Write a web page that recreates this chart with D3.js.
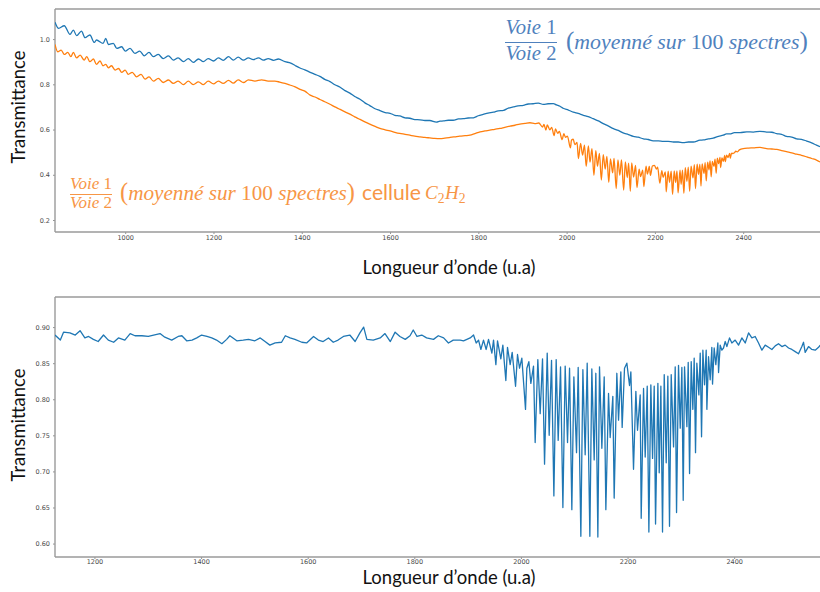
<!DOCTYPE html>
<html><head><meta charset="utf-8">
<script src="https://cdn.jsdelivr.net/npm/d3@7"></script>
<style>
html,body{margin:0;padding:0;background:#fff;}
svg{display:block;}
.tick text{-webkit-font-smoothing:grayscale;}
</style></head>
<body>
<svg id="chart" width="820" height="592"></svg>
<script>
// ---- Spectra: [wavelength (u.a), transmittance] ----
// Voie 1 / Voie 2 without the gas cell (upper panel, blue)
const refSpectrum = [[841,1.074],[849,1.047],[862,1.059],[875,1.021],[882.5,1.040],[890,1.015],[901,1.035],[909,1.006],[920,1.018],[930,0.985],[935,0.996],[950,0.981],[956,1.003],[962,0.976],[973,0.981],[981,0.959],[992,0.966],[1000,0.947],[1011,0.959],[1022,0.937],[1033,0.947],[1043,0.926],[1054,0.941],[1064,0.922],[1075,0.932],[1086,0.914],[1098,0.926],[1109,0.907],[1120,0.917],[1132,0.900],[1143,0.914],[1154,0.897],[1166,0.912],[1177,0.900],[1188,0.914],[1200,0.903],[1211,0.917],[1222,0.906],[1234,0.922],[1245,0.907],[1256,0.920],[1268,0.907],[1279,0.917],[1290,0.909],[1302,0.917],[1313,0.907],[1324,0.914],[1336,0.906],[1347,0.912],[1362,0.900],[1375,0.894],[1385,0.883],[1396,0.872],[1407,0.864],[1419,0.853],[1430,0.844],[1441,0.835],[1452,0.822],[1464,0.812],[1475,0.798],[1487,0.787],[1498,0.772],[1509,0.761],[1520,0.746],[1532,0.734],[1543,0.718],[1554,0.706],[1566,0.692],[1577,0.684],[1589,0.675],[1600,0.672],[1611,0.663],[1622,0.660],[1634,0.652],[1645,0.650],[1656,0.644],[1668,0.643],[1679,0.640],[1690,0.640],[1705,0.633],[1713,0.637],[1721,0.638],[1732,0.641],[1743,0.641],[1755,0.647],[1766,0.648],[1777,0.651],[1789,0.652],[1800,0.661],[1811,0.667],[1822,0.673],[1834,0.677],[1845,0.683],[1857,0.685],[1868,0.695],[1879,0.700],[1890,0.705],[1902,0.707],[1913,0.713],[1924,0.714],[1936,0.717],[1947,0.711],[1958,0.714],[1970,0.715],[1977,0.709],[1985,0.703],[1992,0.694],[2004,0.686],[2015,0.677],[2026,0.671],[2038,0.663],[2049,0.657],[2060,0.648],[2072,0.638],[2083,0.626],[2094,0.616],[2106,0.604],[2117,0.596],[2128,0.585],[2140,0.578],[2151,0.570],[2162,0.566],[2174,0.559],[2185,0.556],[2196,0.550],[2208,0.550],[2219,0.548],[2230,0.548],[2242,0.545],[2253,0.545],[2264,0.542],[2276,0.545],[2287,0.545],[2302,0.553],[2310,0.554],[2321,0.559],[2332,0.562],[2344,0.570],[2355,0.575],[2362,0.581],[2370,0.581],[2380,0.586],[2393,0.586],[2408,0.590],[2423,0.589],[2438,0.592],[2453,0.589],[2465,0.588],[2476,0.582],[2487,0.579],[2498,0.570],[2510,0.567],[2521,0.559],[2532,0.557],[2544,0.549],[2555,0.541],[2566,0.531],[2574,0.524]];

// Voie 1 / Voie 2 through the C2H2 cell (upper panel, orange)
const cellSpectrum = [[841,0.976],[847,0.944],[855,0.951],[862,0.932],[870,0.941],[877,0.922],[882.5,0.941],[890,0.917],[898,0.929],[907,0.907],[913,0.922],[920,0.900],[928,0.912],[935,0.888],[943,0.903],[950,0.882],[956,0.888],[962,0.873],[969,0.882],[977,0.863],[985,0.870],[992,0.853],[1000,0.863],[1007,0.844],[1016,0.853],[1026,0.833],[1036,0.844],[1045,0.823],[1054,0.833],[1064,0.814],[1075,0.826],[1086,0.808],[1098,0.819],[1109,0.804],[1120,0.814],[1132,0.799],[1143,0.814],[1154,0.799],[1166,0.811],[1177,0.799],[1188,0.814],[1200,0.802],[1211,0.814],[1222,0.804],[1234,0.817],[1245,0.805],[1256,0.820],[1268,0.808],[1279,0.820],[1294,0.814],[1309,0.820],[1324,0.814],[1339,0.814],[1350,0.810],[1362,0.804],[1373,0.797],[1385,0.789],[1396,0.778],[1407,0.770],[1419,0.752],[1430,0.744],[1441,0.733],[1452,0.723],[1464,0.712],[1475,0.700],[1487,0.689],[1498,0.678],[1509,0.668],[1520,0.656],[1532,0.645],[1543,0.634],[1554,0.624],[1566,0.614],[1577,0.605],[1589,0.599],[1600,0.594],[1611,0.588],[1622,0.583],[1634,0.579],[1645,0.575],[1656,0.571],[1668,0.568],[1679,0.565],[1690,0.563],[1701,0.561],[1713,0.560],[1724,0.562],[1736,0.565],[1747,0.568],[1758,0.571],[1770,0.573],[1781,0.575],[1792,0.582],[1804,0.590],[1815,0.594],[1826,0.597],[1837,0.601],[1849,0.605],[1860,0.610],[1872,0.615],[1883,0.619],[1894,0.624],[1906,0.627],[1917,0.630],[1928,0.626],[1937,0.629],[1945.5,0.611],[1948.6,0.623],[1953,0.598],[1956.1,0.620],[1962.3,0.599],[1966.1,0.610],[1971.7,0.573],[1974.8,0.603],[1979.8,0.583],[1983.6,0.592],[1989.9,0.555],[1993.6,0.582],[1997.4,0.566],[2001.7,0.571],[2008.6,0.519],[2011.1,0.554],[2014.9,0.557],[2018.6,0.533],[2023.6,0.543],[2026.7,0.472],[2031.7,0.539],[2036.1,0.487],[2040.5,0.531],[2044.3,0.437],[2049.3,0.528],[2053,0.456],[2057.4,0.515],[2061.8,0.398],[2066.1,0.507],[2069.9,0.438],[2074.3,0.494],[2078.7,0.377],[2083,0.489],[2087.4,0.425],[2091.2,0.481],[2095.5,0.367],[2099.3,0.470],[2104.3,0.408],[2107.4,0.472],[2112.4,0.339],[2116.2,0.466],[2120.5,0.398],[2124.3,0.466],[2129.3,0.332],[2133,0.457],[2137.4,0.388],[2140.5,0.451],[2144.3,0.327],[2147.4,0.453],[2151.8,0.390],[2156.2,0.441],[2159.3,0.343],[2164.3,0.425],[2167.4,0.392],[2172.4,0.421],[2174.9,0.348],[2179.9,0.438],[2183.1,0.403],[2187.4,0.437],[2189.9,0.397],[2194.3,0.439],[2198.7,0.442],[2203.7,0.425],[2206.2,0.434],[2211.2,0.363],[2215.6,0.418],[2218.7,0.389],[2223.7,0.413],[2225.6,0.325],[2230,0.416],[2233.1,0.367],[2236.9,0.416],[2240,0.313],[2243.7,0.417],[2246.9,0.366],[2250,0.417],[2252.5,0.320],[2256.9,0.421],[2259.4,0.358],[2262.5,0.421],[2265.6,0.318],[2268.8,0.432],[2272.5,0.371],[2275.6,0.434],[2278.7,0.327],[2281.9,0.438],[2286.3,0.386],[2289.4,0.445],[2291.9,0.339],[2295.6,0.447],[2298.8,0.402],[2301.9,0.446],[2304.4,0.350],[2306.9,0.448],[2311.3,0.406],[2313.8,0.454],[2316.3,0.373],[2319.4,0.456],[2322.5,0.422],[2325,0.461],[2327.5,0.391],[2330,0.459],[2333.8,0.437],[2336.3,0.469],[2338.8,0.407],[2341.3,0.474],[2344.4,0.449],[2347.5,0.477],[2348.8,0.432],[2351.9,0.475],[2355,0.459],[2358.1,0.486],[2359.4,0.458],[2362.5,0.487],[2365.6,0.476],[2369.4,0.495],[2370.7,0.473],[2373.8,0.496],[2376.9,0.494],[2380,0.497],[2383.2,0.504],[2386.3,0.501],[2391.3,0.510],[2400,0.516],[2412,0.518],[2423,0.519],[2438,0.521],[2453,0.516],[2465,0.514],[2476,0.512],[2487,0.507],[2498,0.502],[2510,0.497],[2521,0.491],[2532,0.486],[2544,0.479],[2555,0.472],[2566,0.465],[2574,0.457]];

// Normalised transmittance of the cell (lower panel)
const ratioSpectrum = [[1126,.889],[1136,.882],[1142,.893],[1154,.892],[1164,.889],[1173,.895],[1182,.885],[1189,.887],[1198,.883],[1207,.880],[1217,.889],[1226,.882],[1236,.879],[1245,.885],[1257,.882],[1267,.891],[1276,.888],[1289,.888],[1301,.887],[1311,.889],[1323,.891],[1332,.886],[1345,.882],[1357,.887],[1364,.888],[1373,.881],[1383,.882],[1392,.885],[1401,.889],[1411,.887],[1420,.885],[1429,.882],[1439,.877],[1448,.883],[1454,.888],[1467,.881],[1479,.882],[1489,.883],[1501,.881],[1511,.885],[1520,.880],[1529,.875],[1539,.878],[1551,.879],[1558,.888],[1567,.885],[1576,.883],[1589,.879],[1598,.878],[1611,.887],[1620,.882],[1629,.880],[1639,.885],[1648,.879],[1657,.882],[1667,.887],[1679,.889],[1689,.880],[1698,.892],[1705,.900],[1711,.883],[1723,.882],[1736,.885],[1745,.891],[1755,.880],[1764,.893],[1773,.887],[1783,.883],[1792,.888],[1798,.896],[1805,.887],[1814,.889],[1823,.885],[1836,.883],[1845,.888],[1855,.885],[1864,.878],[1873,.882],[1886,.882],[1892.3,.881],[1898.6,.883],[1904.8,.885],[1911.1,.889],[1916.1,.878],[1920.5,.882],[1924.8,.869],[1929.8,.882],[1934.8,.869],[1939.2,.883],[1945.5,.864],[1948.6,.882],[1953,.848],[1956.1,.881],[1962.3,.856],[1966.1,.875],[1971.7,.826],[1974.8,.872],[1979.8,.848],[1983.6,.865],[1989.9,.818],[1993.6,.862],[1997.4,.843],[2001.7,.857],[2008.6,.786],[2011.1,.843],[2014.9,.852],[2018.6,.822],[2023.6,.846],[2026.7,.740],[2031.7,.855],[2036.1,.780],[2040.5,.856],[2044.3,.710],[2049.3,.864],[2053,.750],[2057.4,.854],[2061.8,.666],[2066.1,.855],[2069.9,.743],[2074.3,.845],[2078.7,.650],[2083,.846],[2087.4,.740],[2091.2,.843],[2095.5,.647],[2099.3,.831],[2104.3,.726],[2107.4,.844],[2112.4,.610],[2116.2,.841],[2120.5,.723],[2124.3,.850],[2129.3,.610],[2133,.842],[2137.4,.716],[2140.5,.836],[2144.3,.609],[2147.4,.845],[2151.8,.732],[2156.2,.831],[2159.3,.647],[2164.3,.808],[2167.4,.747],[2172.4,.804],[2174.9,.663],[2179.9,.836],[2183.1,.771],[2187.4,.838],[2189.9,.761],[2194.3,.843],[2198.7,.850],[2203.7,.819],[2206.2,.838],[2211.2,.703],[2215.6,.811],[2218.7,.757],[2223.7,.806],[2225.6,.635],[2230,.815],[2233.1,.720],[2236.9,.818],[2240,.616],[2243.7,.820],[2246.9,.718],[2250,.818],[2252.5,.627],[2256.9,.822],[2259.4,.698],[2262.5,.818],[2265.6,.616],[2268.8,.834],[2272.5,.712],[2275.6,.832],[2278.7,.624],[2281.9,.834],[2286.3,.734],[2289.4,.845],[2291.9,.643],[2295.6,.847],[2298.8,.760],[2301.9,.844],[2304.4,.660],[2306.9,.845],[2311.3,.762],[2313.8,.851],[2316.3,.697],[2319.4,.852],[2322.5,.786],[2325,.857],[2327.5,.726],[2330,.850],[2333.8,.806],[2336.3,.864],[2338.8,.748],[2341.3,.868],[2344.4,.820],[2347.5,.868],[2348.8,.786],[2351.9,.859],[2355,.827],[2358.1,.872],[2359.4,.821],[2362.5,.871],[2365.6,.848],[2369.4,.878],[2370.7,.837],[2373.8,.875],[2376.9,.868],[2380,.871],[2383.2,.880],[2386.3,.873],[2391.3,.885],[2395.7,.878],[2401.9,.882],[2408.2,.875],[2414.4,.885],[2420.7,.878],[2427,.892],[2433.2,.885],[2439.4,.887],[2445.7,.878],[2452,.868],[2458.2,.875],[2464.5,.872],[2470.7,.869],[2477,.874],[2483.2,.877],[2489.5,.873],[2495.7,.875],[2502,.871],[2508.2,.869],[2514.5,.866],[2520.7,.863],[2527,.873],[2530.1,.879],[2533.2,.865],[2539.5,.873],[2545.7,.869],[2552,.868],[2558.3,.872],[2561.4,.875]];

// ---- Tick values ----
const upperXTicks = [1000, 1200, 1400, 1600, 1800, 2000, 2200, 2400];
const upperYTicks = [0.2, 0.4, 0.6, 0.8, 1.0];
const lowerXTicks = [1200, 1400, 1600, 1800, 2000, 2200, 2400];
const lowerYTicks = [0.60, 0.65, 0.70, 0.75, 0.80, 0.85, 0.90];

// ---- Texts ----
const yLabel = "Transmittance";
const xLabel = "Longueur d\u2019onde (u.a)";

const BLUE = "#1f77b4", ORANGE = "#ff7f0e";
const BLUE_TXT = "#4f81bd", ORANGE_TXT = "#f79646";
const SANS = "Lato, 'Open Sans', sans-serif";
const MATH = "'Liberation Serif', 'DejaVu Serif', serif";
const TICK_FONT = "'DejaVu Sans', sans-serif";

const svg = d3.select("#chart");

// ---- Panel geometry & scales ----
const upper = {left: 55, right: 820, top: 9, bottom: 232};
const lower = {left: 55, right: 820, top: 297, bottom: 557};

const xU = d3.scaleLinear().domain([841, 2574]).range([upper.left, upper.right]);
const yU = d3.scaleLinear().domain([0.147, 1.133]).range([upper.bottom, upper.top]);
const xL = d3.scaleLinear().domain([1126, 2561]).range([lower.left, lower.right]);
const yL = d3.scaleLinear().domain([0.5814, 0.9417]).range([lower.bottom, lower.top]);

const defs = svg.append("defs");
function clip(id, p) {
  defs.append("clipPath").attr("id", id).append("rect")
    .attr("x", p.left).attr("y", p.top)
    .attr("width", p.right - p.left).attr("height", p.bottom - p.top);
}
clip("clipU", upper);
clip("clipL", lower);

function drawAxes(p, x, y, xt, yt, yFmt, pad) {
  const gx = svg.append("g").attr("transform", `translate(0,${p.bottom})`)
    .call(d3.axisBottom(x).tickValues(xt).tickSize(2).tickPadding(pad).tickFormat(d3.format("d")));
  const gy = svg.append("g").attr("transform", `translate(${p.left},0)`)
    .call(d3.axisLeft(y).tickValues(yt).tickSize(2).tickPadding(3).tickFormat(d3.format(yFmt)));
  [gx, gy].forEach(g => {
    g.select(".domain").remove();
    g.selectAll(".tick line").attr("stroke", "#777").attr("stroke-width", 0.8);
    g.selectAll(".tick text").attr("fill", "#4a4a4a").attr("font-family", TICK_FONT)
      .attr("font-size", 6.5);
  });
  // spines: left, top, bottom
  const sp = svg.append("g").attr("stroke", "#9a9a9a").attr("stroke-width", 1.4).attr("fill", "none");
  sp.append("line").attr("x1", p.left).attr("x2", p.left).attr("y1", p.top).attr("y2", p.bottom);
  sp.append("line").attr("x1", p.left).attr("x2", p.right).attr("y1", p.top).attr("y2", p.top);
  sp.append("line").attr("x1", p.left).attr("x2", p.right).attr("y1", p.bottom).attr("y2", p.bottom);
}

function drawLine(data, x, y, color, clipId, curve) {
  svg.append("path").datum(data)
    .attr("clip-path", `url(#${clipId})`)
    .attr("fill", "none").attr("stroke", color).attr("stroke-width", 1.3)
    .attr("stroke-linejoin", "round")
    .attr("d", d3.line().curve(curve).x(d => x(d[0])).y(d => y(d[1])));
}

drawAxes(upper, xU, yU, upperXTicks, upperYTicks, ".1f", 1.5);
drawAxes(lower, xL, yL, lowerXTicks, lowerYTicks, ".2f", 0.8);

drawLine(refSpectrum, xU, yU, BLUE, "clipU", d3.curveMonotoneX);
drawLine(cellSpectrum, xU, yU, ORANGE, "clipU", d3.curveMonotoneX);
drawLine(ratioSpectrum, xL, yL, BLUE, "clipL", d3.curveLinear);

// ---- Axis titles ----
function fit(sel, target) {
  const w = sel.node().getComputedTextLength();
  const fs = parseFloat(sel.attr("font-size"));
  sel.attr("font-size", fs * target / w);
  return sel;
}
function yTitle(cx, cy) {
  fit(svg.append("text").attr("transform", `translate(${cx},${cy}) rotate(-90)`)
    .attr("text-anchor", "middle").attr("font-family", SANS).attr("font-size", 19)
    .attr("fill", "#111").text(yLabel), 113);
}
function xTitle(cx, by) {
  fit(svg.append("text").attr("x", cx).attr("y", by)
    .attr("text-anchor", "middle").attr("font-family", SANS).attr("font-size", 19)
    .attr("fill", "#111").text(xLabel), 173);
}
yTitle(25, 107);
yTitle(25, 425);
xTitle(449, 274);
xTitle(449, 584);

// ---- Math-style annotations ----
function mathRun(text, parts, color) {
  parts.forEach(([s, it, extra]) => {
    const t = text.append("tspan").text(s)
      .attr("font-style", it ? "italic" : "normal");
    if (extra) Object.entries(extra).forEach(([k, v]) => t.attr(k, v));
  });
  return text.attr("fill", color);
}
function fraction(cx, x0, x1, b1, lineY, b2, color, width) {
  const mk = (b, n) => mathRun(svg.append("text").attr("x", cx).attr("y", b)
      .attr("text-anchor", "middle").attr("font-family", MATH).attr("font-size", 16),
      [["Voie ", true], [n, false]], color);
  const t1 = mk(b1, "1");
  fit(t1, width);
  mk(b2, "2").attr("font-size", t1.attr("font-size"));
  svg.append("line").attr("x1", x0).attr("x2", x1).attr("y1", lineY).attr("y2", lineY)
    .attr("stroke", color).attr("stroke-width", 1);
}
function averagedNote(x, b, color, width) {
  const t = mathRun(svg.append("text").attr("x", x).attr("y", b)
      .attr("font-family", MATH).attr("font-size", 16),
    [["(", false, {"font-size": "1.15em"}], ["moyenn\u00e9 sur ", true], ["100", false], [" spectres", true], [")", false, {"font-size": "1.15em"}]],
    color);
  fit(t, width);
}

// blue: reference ratio
fraction(531, 505, 557, 34, 42.5, 60, BLUE_TXT, 51);
averagedNote(566, 49, BLUE_TXT, 242);

// orange: with C2H2 cell
fraction(91, 70, 112, 188.5, 194.5, 208, ORANGE_TXT, 42);
averagedNote(120, 200, ORANGE_TXT, 235);
fit(svg.append("text").attr("x", 362).attr("y", 200).attr("font-family", SANS)
  .attr("font-size", 17).attr("fill", ORANGE_TXT).text("cellule"), 59);
mathRun(svg.append("text").attr("x", 425).attr("y", 199)
    .attr("font-family", MATH).attr("font-size", 19),
  [["C", true], ["2", false, {"font-size": "0.72em", "dy": "4"}], ["H", true, {"dy": "-4", "dx": "0.5"}], ["2", false, {"font-size": "0.72em", "dy": "4"}]],
  ORANGE_TXT);
</script>
</body></html>
